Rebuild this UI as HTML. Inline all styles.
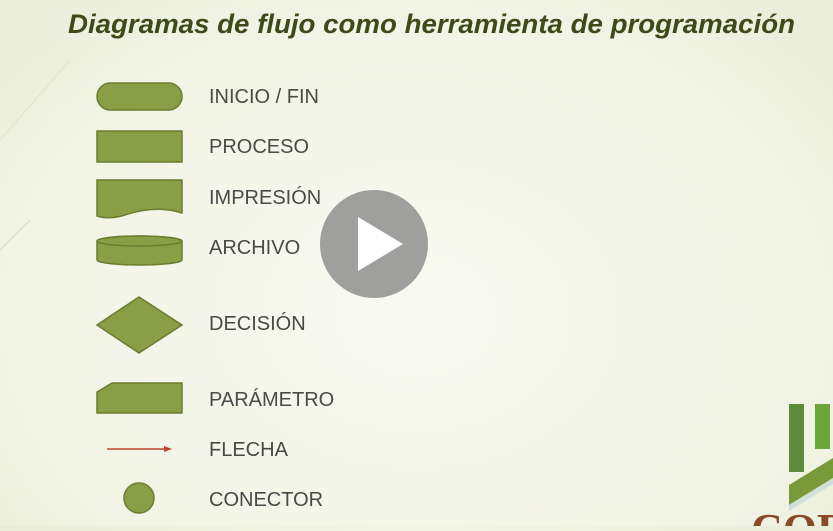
<!DOCTYPE html>
<html><head><meta charset="utf-8"><style>
html,body{margin:0;padding:0;}
body{width:833px;height:526px;overflow:hidden;background:radial-gradient(ellipse at 50% 60%,#f9faf2 0%,#f1f3e4 70%,#e9ecd8 100%);font-family:"Liberation Sans",sans-serif;}
</style></head><body>
<svg width="833" height="526" viewBox="0 0 833 526" xmlns="http://www.w3.org/2000/svg">
<line x1="0" y1="140" x2="70" y2="60" stroke="#dfe3cc" stroke-width="1"/>
<line x1="0" y1="250" x2="30" y2="220" stroke="#d6dbbf" stroke-width="1"/>
<text x="68" y="33" font-size="27" font-weight="bold" font-style="italic" fill="#3e4a1a" textLength="727" lengthAdjust="spacingAndGlyphs">Diagramas de flujo como herramienta de programación</text>
<g fill="#8a9e45" stroke="#6b7d30" stroke-width="1.5">
<rect x="97" y="83" width="85" height="27" rx="13.5"/>
<rect x="97" y="131" width="85" height="31"/>
<path d="M97 180 H182 V213 C160 206 140 210 125 215 C112 219 103 218 97 216 Z"/>
<path d="M97 241 V260 A42.5 5 0 0 0 182 260 V241 A42.5 5 0 0 0 97 241 Z"/>
<ellipse cx="139.5" cy="241" rx="42.5" ry="5"/>
<polygon points="139,297 182,325 139,353 97,325"/>
<polygon points="112,383 182,383 182,413 97,413 97,392"/>
<circle cx="139" cy="498" r="15"/>
</g>
<line x1="107" y1="449" x2="166" y2="449" stroke="#c0442c" stroke-width="1.5"/>
<polygon points="164,446 172,449 164,452" fill="#c0442c"/>
<g font-size="20" fill="#4a4a4a">
<text x="209" y="103">INICIO / FIN</text>
<text x="209" y="153">PROCESO</text>
<text x="209" y="204">IMPRESIÓN</text>
<text x="209" y="254">ARCHIVO</text>
<text x="209" y="330">DECISIÓN</text>
<text x="209" y="406">PARÁMETRO</text>
<text x="209" y="456">FLECHA</text>
<text x="209" y="506">CONECTOR</text>
</g>
<g>
<rect x="789" y="404" width="15" height="68" fill="#5e8a3a"/>
<rect x="815" y="404" width="15" height="45" fill="#6aa63a"/>
<polygon points="789,485 833,458 833,478 789,505" fill="#7a9a3a"/>
<polygon points="789,505 833,478 833,484 789,511" fill="#cfe0d8"/>
<text x="751" y="544" font-size="44" font-weight="bold" font-family="Liberation Serif,serif" fill="#8a4a2a">COR</text>
</g>
<g>
<circle cx="374" cy="244" r="54" fill="#8f8f8f" fill-opacity="0.85"/>
<polygon points="358,217 358,271 403,244" fill="#ffffff"/>
</g>
</svg>
</body></html>
